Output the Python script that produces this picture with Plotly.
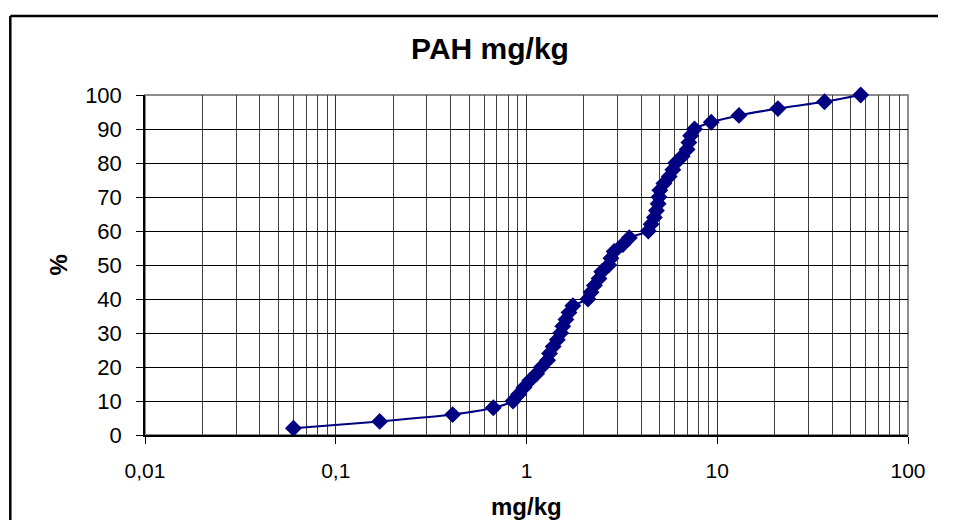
import plotly.graph_objects as go

# cumulative distribution of PAH concentrations
pah_mgkg = [0.060, 0.170, 0.41, 0.67, 0.85, 0.91, 0.97, 1.04, 1.13, 1.20,
            1.29, 1.32, 1.38, 1.45, 1.51, 1.55, 1.61, 1.67, 1.75, 2.10,
            2.18, 2.27, 2.40, 2.48, 2.70, 2.77, 2.88, 3.20, 3.46, 4.35,
            4.50, 4.68, 4.80, 4.90, 4.95, 5.00, 5.25, 5.60, 5.85, 6.05,
            6.55, 6.95, 7.10, 7.25, 7.60, 9.30, 13.0, 20.8, 36.5, 56.5]
percent = [2, 4, 6, 8, 10, 12, 14, 16, 18, 20,
           22, 24, 26, 28, 30, 32, 34, 36, 38, 40,
           42, 44, 46, 48, 50, 52, 54, 56, 58, 60,
           62, 64, 66, 68, 70, 72, 74, 76, 78, 80,
           82, 84, 86, 88, 90, 92, 94, 96, 98, 100]

x_major = [0.01, 0.1, 1, 10, 100]
x_major_text = ["0,01", "0,1", "1", "10", "100"]
x_minor = [m * d for d in [0.01, 0.1, 1, 10] for m in range(2, 10)]
y_ticks = list(range(0, 101, 10))

FONT = "Liberation Sans, Arial, sans-serif"
NAVY = "#000080"

fig = go.Figure()
fig.add_trace(go.Scatter(
    x=pah_mgkg, y=percent, mode="lines+markers",
    line=dict(color=NAVY, width=2, shape="spline", smoothing=0.6),
    marker=dict(symbol="diamond", size=13, color=NAVY),
    cliponaxis=False, showlegend=False,
))

# page body has an 8px margin: design in window pixels, shift by OFF
OFF = 8
W, H = 930, 512
L, R, T, B = 137, W - 913, 87, H - 427
pw, ph = W - L - R, H - T - B

def px(xp):
    return (xp - OFF - L) / pw

def py(yp):
    return (H - B - (yp - OFF)) / ph

fig.update_layout(
    width=W, height=H,
    margin=dict(l=L, r=R, t=T, b=B, pad=0),
    paper_bgcolor="white", plot_bgcolor="white",
    font=dict(family=FONT, color="black", size=22),
    title=dict(text="<b>PAH mg/kg</b>", x=(490 - OFF) / W, xanchor="center",
               y=1 - (48 - OFF) / H, yanchor="middle",
               font=dict(family=FONT, size=30, color="black")),
    xaxis=dict(
        type="log", range=[-2, 2],
        tickmode="array", tickvals=x_major, ticktext=x_major_text,
        ticks="outside", ticklen=7, tickcolor="black", tickwidth=1,
        ticklabelstandoff=9, ticklabeloverflow="allow",
        showgrid=True, gridcolor="#303030", gridwidth=1,
        minor=dict(tickmode="array", tickvals=x_minor, showgrid=True,
                   gridcolor="#404040", gridwidth=1, ticks=""),
        showline=True, linecolor="black", linewidth=1.5,
        tickfont=dict(size=21), zeroline=False,
    ),
    yaxis=dict(
        range=[0, 100], tickmode="array", tickvals=y_ticks,
        ticks="outside", ticklen=7, tickcolor="black", tickwidth=1,
        ticklabelstandoff=10,
        showgrid=True, gridcolor="black", gridwidth=1,
        showline=True, linecolor="black", linewidth=1.5,
        tickfont=dict(size=22), zeroline=False,
    ),
    shapes=[
        dict(type="rect", xref="paper", yref="paper", x0=0, x1=1, y0=0, y1=1,
             line=dict(color="#8c8c8c", width=2), layer="between"),
        dict(type="line", xref="paper", yref="paper",
             x0=px(8), x1=px(1100), y0=py(16), y1=py(16),
             line=dict(color="black", width=2.5), layer="above"),
        dict(type="line", xref="paper", yref="paper",
             x0=px(8), x1=px(8), y0=py(16), y1=py(600),
             line=dict(color="black", width=2.5), layer="above"),
    ],
    annotations=[
        dict(text="<b>mg/kg</b>", xref="paper", yref="paper",
             x=px(533), y=py(507), xanchor="center", yanchor="middle",
             showarrow=False, font=dict(family=FONT, size=24, color="black")),
        dict(text="<b>%</b>", xref="paper", yref="paper",
             x=px(57), y=py(265), xanchor="center", yanchor="middle",
             textangle=-90, showarrow=False,
             font=dict(family=FONT, size=24, color="black")),
    ],
)

fig.write_html("out.html")
